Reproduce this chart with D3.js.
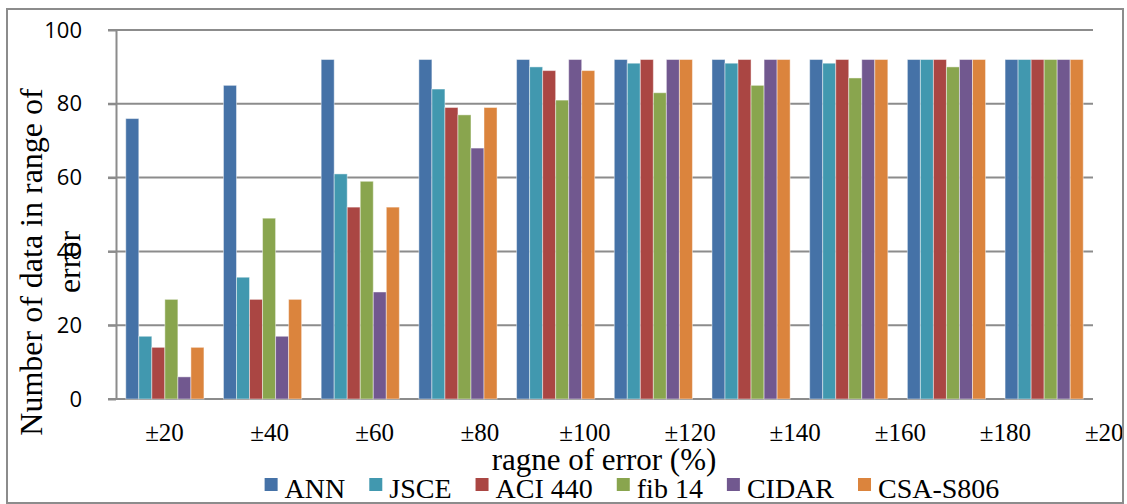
<!DOCTYPE html>
<html>
<head>
<meta charset="utf-8">
<script src="https://cdn.jsdelivr.net/npm/d3@7"></script>
<style>
  body { margin: 0; background: #fff; }
</style>
</head>
<body>
<div id="diagram"></div>
<script>
// data
const categories = ['±20', '±40', '±60', '±80', '±100', '±120', '±140', '±160', '±180', '±200'];
const seriesNames = ['ANN', 'JSCE', 'ACI 440', 'fib 14', 'CIDAR', 'CSA-S806'];
const ann = [76, 85, 92, 92, 92, 92, 92, 92, 92, 92];
const jsce = [17, 33, 61, 84, 90, 91, 91, 91, 92, 92];
const aci440 = [14, 27, 52, 79, 89, 92, 92, 92, 92, 92];
const fib14 = [27, 49, 59, 77, 81, 83, 85, 87, 90, 92];
const cidar = [6, 17, 29, 68, 92, 92, 92, 92, 92, 92];
const csaS806 = [14, 27, 52, 79, 89, 92, 92, 92, 92, 92];
const yTicks = [0, 20, 40, 60, 80, 100];

!(function () {
  'use strict'
  // - - - - - - - - - -
  let
    series = [ann, jsce, aci440, fib14, cidar, csaS806],
    colors = ['#4572A7', '#4198AF', '#AA4643', '#89A54E', '#71588F', '#DB843D'],
    rows = categories.map(function (c, i) {
      return { cat: c, values: series.map(function (s, j) { return { key: seriesNames[j], v: s[i] }; }) };
    }),

    canvas = {
      width: 1127,
      height: 504,
      padding: { top: 30, right: 34, bottom: 105, left: 116 }
    },
    serif = '"Liberation Serif", "Times New Roman", serif',
    svg = undefined,
    xScale = undefined,
    innerScale = undefined,
    labelScale = undefined,
    yScale = undefined,
    color = undefined,
    plotRight = canvas.width - canvas.padding.right,
    plotBottom = canvas.height - canvas.padding.bottom;

  svg = d3.select('#diagram')
    .append('svg')
    .attr('width', canvas.width)
    .attr('height', canvas.height);

  svg.append('defs').append('clipPath').attr('id', 'frame')
    .append('rect').attr('x', 7).attr('y', 9).attr('width', 1116).attr('height', 494);

  xScale = d3.scaleBand()
    .domain(categories)
    .range([canvas.padding.left, plotRight])
    .paddingInner(0.2)
    .paddingOuter(0.1);

  innerScale = d3.scaleBand()
    .domain(seriesNames)
    .range([0, xScale.bandwidth()]);

  // the category labels in the picture run wider than the bars
  labelScale = d3.scalePoint()
    .domain(categories)
    .range([164, 1110]);

  yScale = d3.scaleLinear()
    .domain([0, 100])
    .range([plotBottom, canvas.padding.top]);

  color = d3.scaleOrdinal().domain(seriesNames).range(colors);

  // gridlines
  svg.append('g')
    .selectAll('line')
    .data(yTicks)
    .join('line')
    .attr('x1', canvas.padding.left - 8)
    .attr('x2', plotRight)
    .attr('y1', function (d) { return yScale(d); })
    .attr('y2', function (d) { return yScale(d); })
    .attr('stroke', '#8c8c8c')
    .attr('stroke-width', 2);

  // bars
  svg.append('g')
    .selectAll('g')
    .data(rows)
    .join('g')
    .attr('transform', function (d) { return 'translate(' + xScale(d.cat) + ',0)'; })
    .selectAll('rect')
    .data(function (d) { return d.values; })
    .join('rect')
    .attr('x', function (d) { return innerScale(d.key); })
    .attr('width', innerScale.bandwidth())
    .attr('y', function (d) { return yScale(d.v); })
    .attr('height', function (d) { return yScale(0) - yScale(d.v); })
    .attr('fill', function (d) { return color(d.key); })
    .attr('stroke', 'rgba(255,255,255,0.45)')
    .attr('stroke-width', 1);

  // y axis
  let yAxis = d3.axisLeft(yScale).tickValues(yTicks).tickSize(8).tickSizeOuter(0).tickPadding(26);
  let gy = svg.append('g')
    .attr('transform', 'translate(' + canvas.padding.left + ',0)')
    .call(yAxis);
  gy.select('.domain').attr('stroke', '#8c8c8c').attr('stroke-width', 2);
  gy.selectAll('.tick line').attr('stroke', '#8c8c8c').attr('stroke-width', 2);
  gy.selectAll('.tick text')
    .attr('font-family', '"Open Sans", "Noto Sans", sans-serif')
    .attr('font-size', 22)
    .attr('fill', '#000');

  // x labels
  let xAxis = d3.axisBottom(labelScale).tickSize(0).tickPadding(0);
  let gx = svg.append('g')
    .attr('clip-path', 'url(#frame)')
    .append('g')
    .attr('transform', 'translate(0,' + (plotBottom + 24) + ')')
    .call(xAxis);
  gx.select('.domain').remove();
  gx.selectAll('.tick text')
    .attr('font-family', serif)
    .attr('font-size', 25)
    .attr('dy', '0.71em')
    .attr('fill', '#000');

  // axis titles
  svg.append('text')
    .attr('x', 604)
    .attr('y', 470)
    .attr('text-anchor', 'middle')
    .attr('font-family', serif)
    .attr('font-size', 31)
    .text('ragne of error (%)');

  let yTitle = svg.append('text')
    .attr('transform', 'translate(42,262) rotate(-90)')
    .attr('text-anchor', 'middle')
    .attr('font-family', serif)
    .attr('font-size', 32);
  yTitle.append('tspan').attr('x', 0).attr('y', 0).text('Number of data in range of');
  yTitle.append('tspan').attr('x', 0).attr('y', 38).text('error');

  // legend, laid out from the measured label widths and centred
  let legendOuter = svg.append('g').attr('clip-path', 'url(#frame)');
  let legend = legendOuter.append('g');
  let item = legend.selectAll('g')
    .data(seriesNames)
    .join('g');
  item.append('rect')
    .attr('x', 0).attr('y', -20)
    .attr('width', 13).attr('height', 13)
    .attr('fill', function (d) { return color(d); });
  item.append('text')
    .attr('x', 20)
    .attr('font-family', serif)
    .attr('font-size', 28)
    .text(function (d) { return d; });
  let cursor = 0;
  item.each(function () {
    let w = d3.select(this).select('text').node().getComputedTextLength();
    d3.select(this).attr('transform', 'translate(' + cursor + ',0)');
    cursor += 20 + w + 24;
  });
  let legendWidth = cursor - 24;
  legend.attr('transform', 'translate(' + (632 - legendWidth / 2) + ',498)');

  // chart frame
  svg.append('rect')
    .attr('x', 7).attr('y', 9)
    .attr('width', 1116).attr('height', 494)
    .attr('fill', 'none')
    .attr('stroke', '#8c8c8c')
    .attr('stroke-width', 2);
  // - - - - - - - - - -
}())
</script>
</body>
</html>
